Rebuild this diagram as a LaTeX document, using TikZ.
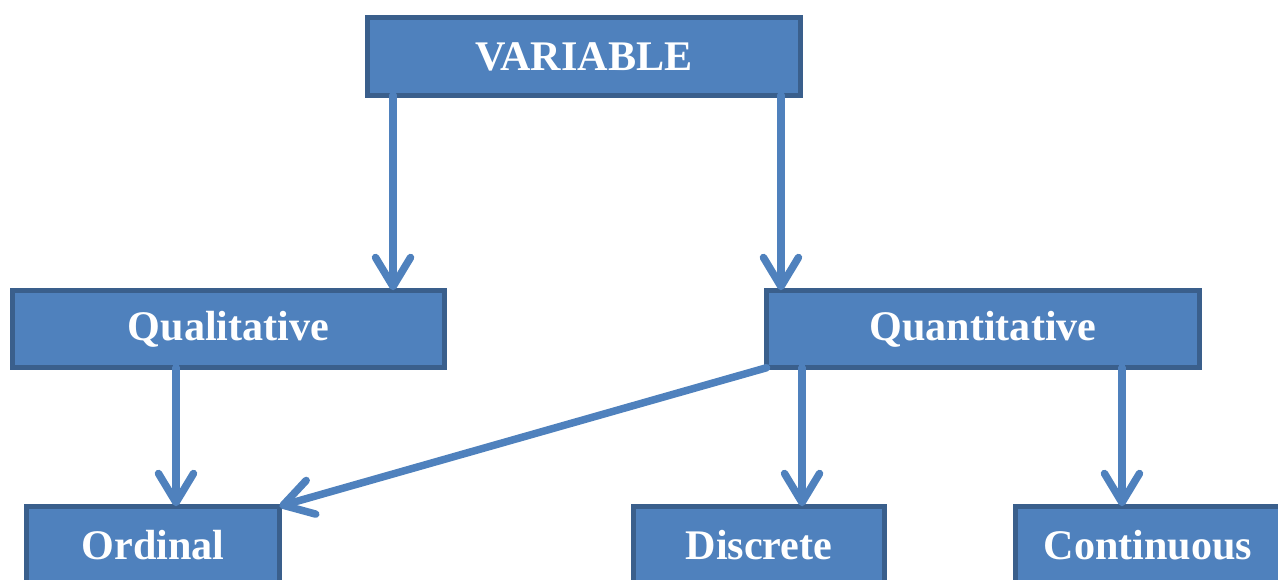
\documentclass[tikz,border=0pt]{standalone}
\usepackage{fontspec}
\setmainfont{Liberation Serif}
\usetikzlibrary{arrows.meta,shadows}
\definecolor{boxfill}{HTML}{4F81BD}
\definecolor{boxline}{HTML}{3A5F8C}
\begin{document}
\begin{tikzpicture}[x=0.02cm,y=-0.02cm,
  box/.style={draw=boxline,fill=boxfill,line width=0.1cm,inner sep=0pt,outer sep=0pt,
    minimum height=1.55cm,text=white,font=\fontsize{24}{28}\selectfont\bfseries,
    drop shadow={opacity=0.2,shadow xshift=0.05cm,shadow yshift=-0.05cm}},
  conn/.style={draw=boxfill,line width=0.15cm,line cap=round,
    -{Straight Barb[length=0.58cm,width=0.7cm,round]}}]
\useasboundingbox (0,0) rectangle (1278,580);
\node[box,minimum width=8.66cm] (var) at (584,56.5) {VARIABLE};
\node[box,minimum width=8.64cm] (qual) at (228.5,329) {Qualitative};
\node[box,minimum width=8.66cm] (quant) at (983,329) {Quantitative};
\node[box,minimum width=5.06cm] (ord) at (153,545) {Ordinal};
\node[box,minimum width=5.02cm] (disc) at (759,545) {Discrete};
\node[box,minimum width=5.30cm] (cont) at (1148,545) {Continuous};
\draw[conn] ([xshift=0.51cm]var.south west) -- ([xshift=0.51cm]var.south west |- qual.north);
\draw[conn] ([xshift=-0.39cm]var.south east) -- ([xshift=-0.39cm]var.south east |- quant.north);
\draw[conn] ([xshift=-2.07cm]ord.north east |- qual.south) -- ([xshift=-2.07cm]ord.north east);
\draw[conn] ([xshift=0.71cm]quant.south west) -- ([xshift=0.71cm]quant.south west |- disc.north);
\draw[conn] ([xshift=-1.55cm]quant.south east) -- ([xshift=-1.55cm]quant.south east |- cont.north);
\draw[conn] (quant.south west) -- (ord.north east);
\end{tikzpicture}
\end{document}
